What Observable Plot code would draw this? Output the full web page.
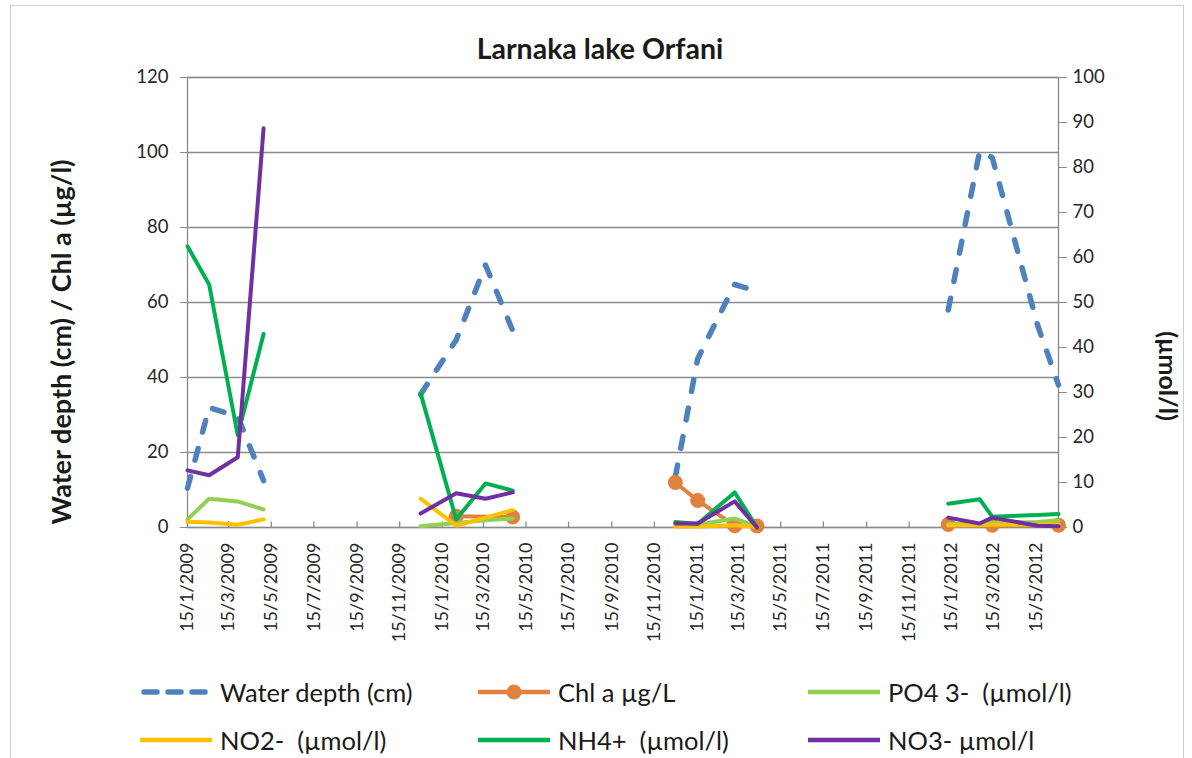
<!DOCTYPE html>
<html>
<head>
<meta charset="utf-8">
<script src="https://cdn.jsdelivr.net/npm/d3@7"></script>
<script src="https://cdn.jsdelivr.net/npm/@observablehq/plot@0.6"></script>
<style>
  body { margin: 0; background: #fff; font-family: Lato, "Open Sans", sans-serif; }
  #wrap { position: relative; width: 1192px; height: 758px; overflow: hidden; background: #fff; }
  #border { position: absolute; left: 10px; top: 5px; width: 1174px; height: 800px; border: 1px solid #d0d0d0; box-sizing: border-box; }
  #chart { position: absolute; left: 0; top: 0; }
  .txt { position: absolute; white-space: pre; color: #1a1a1a; }
  #title { left: 600px; top: 48px; transform: translate(-50%, -50%); font-weight: bold; font-size: 28.5px; }
  #ylab { left: 60px; top: 342px; transform: translate(-50%, -50%) rotate(-90deg); font-weight: bold; font-size: 27px; }
  #ylab2 { left: 1169px; top: 376px; transform: translate(-50%, -50%) rotate(90deg); font-weight: bold; font-size: 25px; }
  .leg { position: absolute; display: flex; align-items: center; transform: translateY(-50%); font-size: 25.5px; color: #1a1a1a; white-space: pre; }
  .leg svg { margin-right: 4px; }
</style>
</head>
<body>
<div id="wrap">
  <div id="border"></div>
  <div id="chart"></div>
  <div class="txt" id="title">Larnaka lake Orfani</div>
  <div class="txt" id="ylab">Water depth (cm) / Chl a (µg/l)</div>
  <div class="txt" id="ylab2">(µmol/l)</div>
  <div id="legend"></div>
</div>
<script>
// ---- data ----
const sampleDates = ["2009-01-15","2009-02-15","2009-03-28","2009-05-04",
                     "2009-12-15","2010-02-04","2010-03-18","2010-04-26",
                     "2010-12-15","2011-01-16","2011-03-10","2011-04-11",
                     "2012-01-10","2012-02-24","2012-03-13","2012-05-17","2012-06-16"];
const campaign = [0,0,0,0, 1,1,1,1, 2,2,2,2, 3,3,3,3,3];
const waterDepth = [10.5, 32, 29.6, 12.5,  35.5, 50, 70, 52.5,  13.5, 45, 64.8, 63,  58, 100.3, 98.7, 54, 38];
const chlA       = [null, null, null, null,  null, 3, null, 2.8,  12, 7.2, 0.5, 0.4,  0.8, null, 0.6, null, 0.6];
const po4        = [1.8, 6.4, 5.8, 4.0,  0.3, 1.0, 1.6, 2.0,  0.5, 0.6, 2.0, 0.2,  0.8, 0.8, 1.0, 1.2, 1.6];
const no2        = [1.3, 1.1, 0.6, 1.8,  6.4, 0.4, 2.2, 3.9,  0.2, 0.2, 0.5, 0.1,  0.5, 0.5, 0.6, 0.6, 0.7];
const nh4        = [62.5, 54, 20.5, 43,  29.8, 1.8, 9.8, 8.2,  1.2, 0.8, 7.8, 0,  5.3, 6.3, 2.4, 2.8, 3.0];
const no3        = [12.7, 11.6, 15.6, 88.7,  3.1, 7.6, 6.4, 7.8,  0.9, 0.9, 5.8, 0,  2.2, 0.9, 2.2, 0.4, 0.3];

const seriesNames  = ["Water depth (cm)", "Chl a µg/L", "PO4 3-  (µmol/l)", "NO2-  (µmol/l)", "NH4+  (µmol/l)", "NO3- µmol/l"];
const seriesValues = [waterDepth, chlA, po4, no2, nh4, no3];
const seriesColors = ["#4F81BD", "#E0823D", "#92D050", "#FFC000", "#00B050", "#7030A0"];
const seriesAxis   = ["left", "left", "right", "right", "right", "right"];

const leftTicks  = [0, 20, 40, 60, 80, 100, 120];
const rightTicks = [0, 10, 20, 30, 40, 50, 60, 70, 80, 90, 100];
const xTickLabels = ["15/1/2009","15/3/2009","15/5/2009","15/7/2009","15/9/2009","15/11/2009",
                     "15/1/2010","15/3/2010","15/5/2010","15/7/2010","15/9/2010","15/11/2010",
                     "15/1/2011","15/3/2011","15/5/2011","15/7/2011","15/9/2011","15/11/2011",
                     "15/1/2012","15/3/2012","15/5/2012"];
const xDomain = ["2009-01-15", "2012-06-16"];

// ---- build ----
const rightFactor = 120 / 100; // right axis 0-100 mapped onto left 0-120
const parseLabel = s => { const [d, m, y] = s.split("/").map(Number); return new Date(Date.UTC(y, m - 1, d)); };
const tickDates = xTickLabels.map(parseLabel);
const fmt = d => `${d.getUTCDate()}/${d.getUTCMonth() + 1}/${d.getUTCFullYear()}`;

const rows = [];
seriesNames.forEach((name, s) => {
  seriesValues[s].forEach((v, i) => {
    if (v == null) return;
    rows.push({ series: name, date: new Date(sampleDates[i]), campaign: campaign[i],
                y: seriesAxis[s] === "right" ? v * rightFactor : v });
  });
});
const bySeries = name => rows.filter(r => r.series === name);

const gray = "#8a8a8a";
const tickFont = 18.5;
const marks = [
  Plot.ruleY(leftTicks, { y: d => d, stroke: gray, strokeWidth: 1.3 }),
  Plot.frame({ stroke: gray, strokeWidth: 1.3 }),
  Plot.axisY({ anchor: "left", ticks: leftTicks, tickSize: 7, tickPadding: 12, label: null,
               stroke: gray, fill: "#262626", fontSize: tickFont }),
  Plot.axisY({ anchor: "right", ticks: rightTicks.map(v => v * rightFactor),
               tickFormat: d => String(Math.round(d / rightFactor)),
               tickSize: 8, tickPadding: 6, label: null, stroke: gray, fill: "#262626", fontSize: tickFont }),
  Plot.axisX({ ticks: tickDates, tickFormat: fmt, tickRotate: -90, tickSize: 0, tickPadding: 15,
               label: null, fill: "#262626", fontSize: 18 }),
  Plot.ruleX(tickDates, { x: d => d, y1: 0, y2: 1.45, stroke: gray, strokeWidth: 1.3 })
];
seriesNames.forEach((name, s) => {
  const data = bySeries(name);
  if (s === 0) {
    marks.push(Plot.line(data, { x: "date", y: "y", z: "campaign", stroke: seriesColors[s], strokeWidth: 5.5,
      strokeDasharray: "12 17", strokeLinecap: "round", strokeLinejoin: "round" }));
  } else {
    marks.push(Plot.line(data, { x: "date", y: "y", z: "campaign", stroke: seriesColors[s], strokeWidth: 4,
      strokeLinejoin: "round" }));
    if (s === 1) marks.push(Plot.dot(data, { x: "date", y: "y", r: 7.5, fill: seriesColors[s], stroke: "none" }));
  }
});

const chart = Plot.plot({
  width: 1192,
  height: 660,
  marginLeft: 187,
  marginRight: 134,
  marginTop: 77,
  marginBottom: 133,
  style: { fontFamily: "Lato, 'Open Sans', sans-serif", background: "transparent", overflow: "visible" },
  x: { type: "utc", domain: xDomain.map(d => new Date(d)) },
  y: { domain: [0, 120] },
  marks
});
document.getElementById("chart").appendChild(chart);

// ---- legend ----
const legend = document.getElementById("legend");
const legX = [140, 478, 808];
const legY = [692, 740];
seriesNames.forEach((name, s) => {
  const div = document.createElement("div");
  div.className = "leg";
  div.style.left = legX[s % 3] + "px";
  div.style.top = legY[Math.floor(s / 3)] + "px";
  let sym;
  if (s === 0) sym = `<line x1="4" y1="10" x2="72" y2="10" stroke="${seriesColors[s]}" stroke-width="5.5" stroke-dasharray="13 11" stroke-linecap="round"/>`;
  else sym = `<line x1="0" y1="10" x2="72" y2="10" stroke="${seriesColors[s]}" stroke-width="4.5"/>` +
             (s === 1 ? `<circle cx="36" cy="10" r="7.5" fill="${seriesColors[s]}"/>` : "");
  div.innerHTML = `<svg width="76" height="20">${sym}</svg><span>${name}</span>`;
  legend.appendChild(div);
});
</script>
</body>
</html>
